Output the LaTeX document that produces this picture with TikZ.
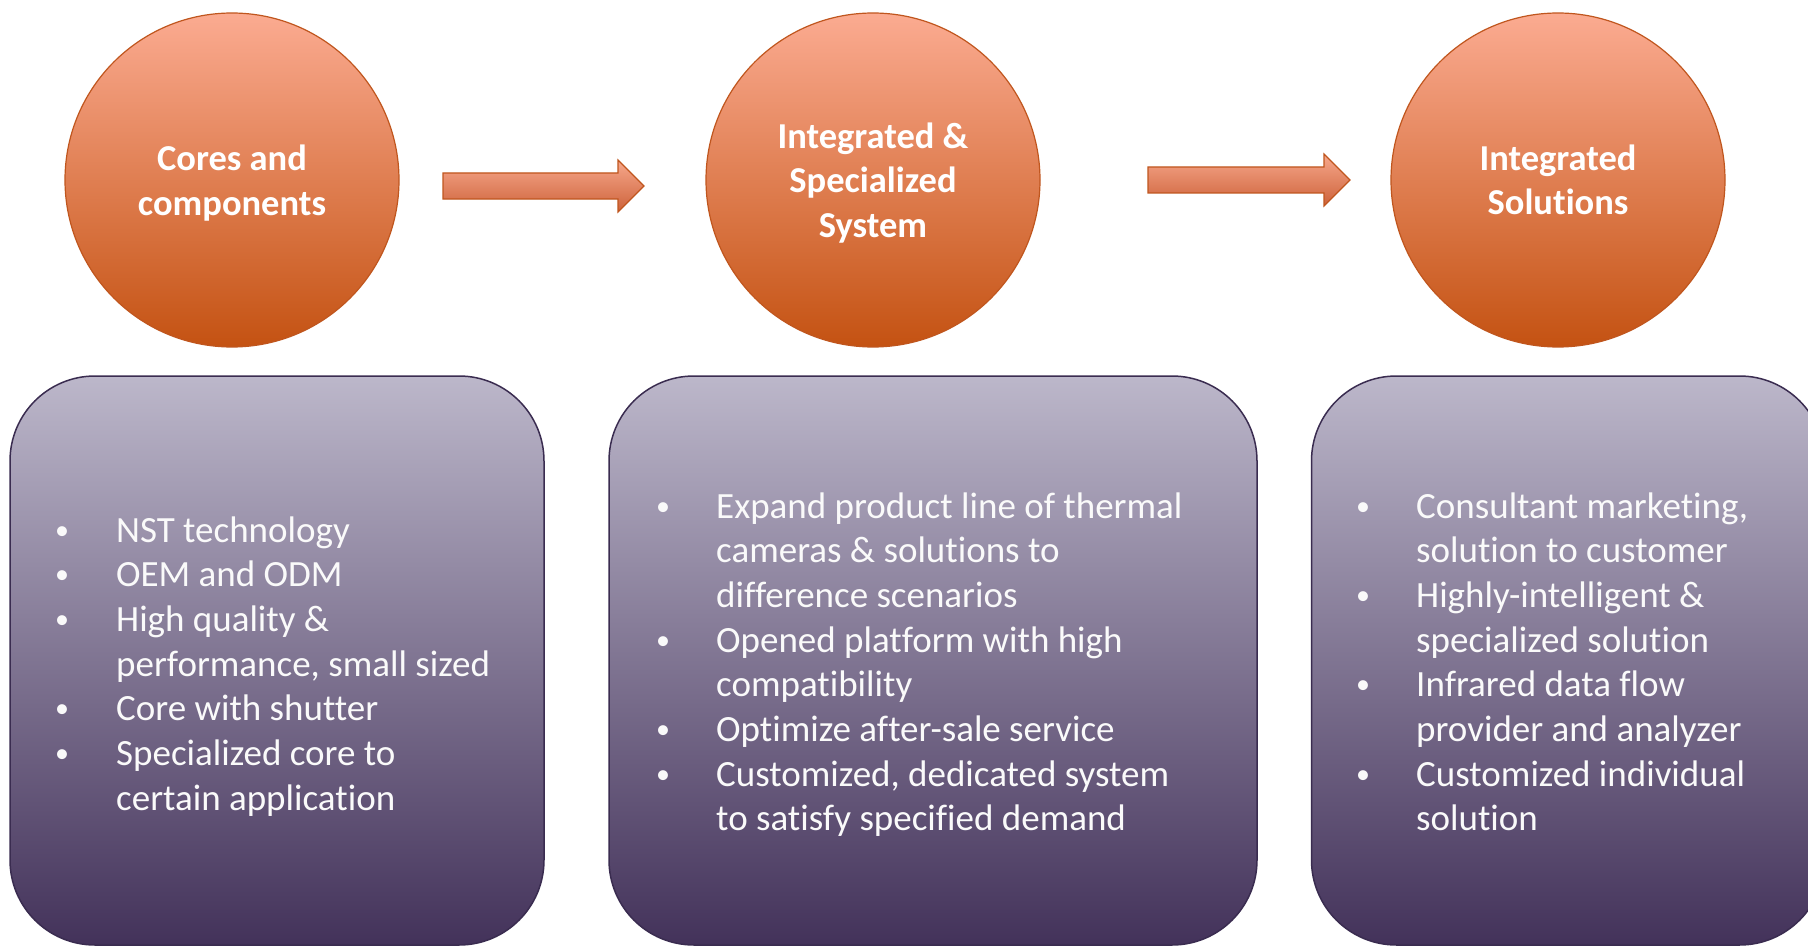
\documentclass[tikz,border=0pt]{standalone}
\usepackage{fontspec}
\setmainfont{Carlito}[Ligatures={NoCommon,NoContextual},RawFeature={-liga;-clig;-calt}]
\definecolor{circtop}{RGB}{251,171,145}
\definecolor{circbot}{RGB}{196,82,18}
\definecolor{circline}{RGB}{192,86,30}
\definecolor{boxtop}{RGB}{188,183,202}
\definecolor{boxbot}{RGB}{67,50,90}
\definecolor{boxline}{RGB}{58,44,80}
\definecolor{arrtop}{RGB}{247,168,140}
\definecolor{arrbot}{RGB}{205,98,58}
\definecolor{listtext}{RGB}{250,250,250}
\newcommand{\bul}{\raisebox{3pt}{\fontsize{28}{28}\selectfont\textbullet}}
\tikzset{
  stage/.style={circle, minimum size=334pt, inner sep=0pt, draw=circline, line width=1.2pt,
    top color=circtop, bottom color=circbot, text=white, align=center,
    font=\fontsize{36.5}{44.5}\selectfont\bfseries},
  panel/.style={draw=boxline, line width=1.5pt, rounded corners=85pt, inner sep=0pt,
    top color=boxtop, bottom color=boxbot},
  blockarrow/.style={draw=circline, line width=1.2pt, top color=arrtop, bottom color=arrbot},
  itemlist/.style={anchor=base west, inner sep=0pt, text=listtext,
    font=\fontsize{37}{44.7}\selectfont}
}
\begin{document}
\begin{tikzpicture}[x=1pt,y=-1pt]
\useasboundingbox (0,0) rectangle (1808,947);
\fill[white] (0,0) rectangle (1808,947);

% stage circles
\node[stage] (c1) at (232,180) {Cores and\\\smash{components}};
\node[stage] (c2) at (873,180) {Integrated \&\\Specialized\\\smash{System}};
\node[stage] (c3) at (1558,180) {Integrated\\Solutions};

% block arrows
\draw[blockarrow] (443,173) -- (618,173) -- (618,160) -- (644,186) -- (618,212) -- (618,199) -- (443,199) -- cycle;
\draw[blockarrow] (1148,167) -- (1324,167) -- (1324,154) -- (1350,180) -- (1324,206) -- (1324,193) -- (1148,193) -- cycle;

% panels
\node[panel, minimum width=534pt, minimum height=569pt] (p1) at (277,660.5) {};
\node[panel, minimum width=648pt, minimum height=569pt] (p2) at (933,660.5) {};
\node[panel, minimum width=513pt, minimum height=569pt] (p3) at (1568,660.5) {};

% lists
\node[itemlist] (l1) at (55,542) {\begin{tabular}[t]{@{}p{61pt}@{}l@{}}
\bul & NST technology\\
\bul & OEM and ODM\\
\bul & High quality \&\\
 & performance, small sized\\
\bul & Core with shutter\\
\bul & Specialized core to\\
 & certain application
\end{tabular}};

\node[itemlist] (l2) at (656,518) {\begin{tabular}[t]{@{}p{60pt}@{}l@{}}
\bul & Expand product line of thermal\\
 & cameras \& solutions to\\
 & difference scenarios\\
\bul & Opened platform with high\\
 & compatibility\\
\bul & Optimize after-sale service\\
\bul & Customized, dedicated system\\
 & to satisfy specified demand
\end{tabular}};

\node[itemlist] (l3) at (1356,518) {\begin{tabular}[t]{@{}p{60pt}@{}l@{}}
\bul & Consultant marketing,\\
 & solution to customer\\
\bul & Highly-intelligent \&\\
 & specialized solution\\
\bul & Infrared data flow\\
 & provider and analyzer\\
\bul & Customized individual\\
 & solution
\end{tabular}};
\end{tikzpicture}
\end{document}
